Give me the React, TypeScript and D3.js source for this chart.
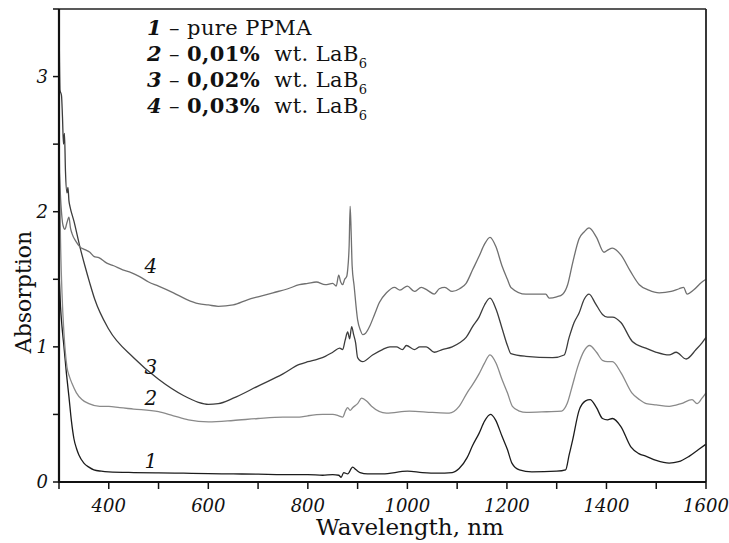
import React from 'react'
import * as d3 from 'd3'

type Pt = [number, number]

// wavelength (nm), absorption
const purePmma: Pt[] = [
  [300, 1.55], [303, 1.3], [306, 1.15], [310, 1.0], [315, 0.8], [320, 0.63], [325, 0.45], [330, 0.32],
  [335, 0.25], [340, 0.2], [350, 0.14], [360, 0.11], [370, 0.09], [385, 0.08], [400, 0.075], [450, 0.07],
  [500, 0.068], [550, 0.065], [600, 0.062], [650, 0.06], [700, 0.058], [750, 0.055], [800, 0.055],
  [830, 0.05], [850, 0.055], [862, 0.05], [867, 0.035], [872, 0.07], [880, 0.06], [890, 0.11],
  [897, 0.09], [905, 0.07], [920, 0.06], [950, 0.06], [1000, 0.08], [1030, 0.07], [1060, 0.065],
  [1090, 0.07], [1104, 0.1], [1120, 0.18], [1131, 0.27], [1144, 0.36], [1155, 0.45], [1167, 0.5],
  [1177, 0.46], [1190, 0.34], [1201, 0.24], [1210, 0.14], [1225, 0.09], [1250, 0.075], [1300, 0.08],
  [1318, 0.09], [1325, 0.2], [1332, 0.31], [1345, 0.53], [1358, 0.6], [1367, 0.61], [1380, 0.55],
  [1392, 0.47], [1402, 0.46], [1412, 0.47], [1429, 0.41], [1449, 0.26], [1465, 0.21], [1480, 0.19],
  [1500, 0.16], [1526, 0.14], [1545, 0.15], [1566, 0.19], [1585, 0.24], [1600, 0.28],
]

const lab001: Pt[] = [
  [300, 2.6], [303, 1.8], [306, 1.4], [310, 1.1], [316, 0.85], [321, 0.78], [326, 0.73], [335, 0.66],
  [346, 0.61], [360, 0.58], [382, 0.56], [400, 0.56], [422, 0.55], [450, 0.54], [500, 0.52], [530, 0.49],
  [560, 0.46], [600, 0.445], [650, 0.455], [700, 0.47], [750, 0.48], [783, 0.48], [800, 0.49],
  [830, 0.5], [850, 0.5], [862, 0.49], [870, 0.48], [876, 0.53], [880, 0.55], [885, 0.53], [890, 0.55],
  [900, 0.58], [908, 0.62], [918, 0.6], [928, 0.56], [958, 0.51], [1004, 0.525], [1050, 0.515],
  [1084, 0.51], [1104, 0.56], [1120, 0.66], [1131, 0.72], [1144, 0.8], [1155, 0.88], [1166, 0.94],
  [1178, 0.88], [1190, 0.76], [1201, 0.66], [1211, 0.56], [1225, 0.525], [1239, 0.515], [1280, 0.52],
  [1310, 0.525], [1321, 0.58], [1332, 0.72], [1342, 0.85], [1355, 0.97], [1366, 1.01], [1380, 0.96],
  [1392, 0.9], [1402, 0.89], [1412, 0.89], [1429, 0.81], [1451, 0.66], [1466, 0.61], [1480, 0.58],
  [1500, 0.57], [1526, 0.56], [1550, 0.58], [1572, 0.61], [1582, 0.58], [1592, 0.62], [1600, 0.66],
]

const lab002: Pt[] = [
  [300, 3.45], [301, 3.1], [302, 2.9], [305, 2.86], [307, 2.7], [309, 2.5], [311, 2.58], [313, 2.3],
  [316, 2.14], [318, 2.18], [320, 2.08], [322, 2.04], [330, 1.93], [342, 1.74], [352, 1.6], [362, 1.47],
  [372, 1.35], [400, 1.13], [450, 0.92], [500, 0.76], [550, 0.64], [580, 0.59], [600, 0.575], [620, 0.58],
  [650, 0.62], [700, 0.71], [750, 0.8], [783, 0.87], [800, 0.89], [820, 0.91], [835, 0.93], [850, 0.96],
  [864, 0.99], [870, 0.98], [875, 1.05], [880, 1.11], [884, 1.06], [888, 1.15], [892, 1.09], [896, 1.03],
  [900, 0.92], [910, 0.89], [930, 0.94], [950, 0.98], [965, 1.0], [978, 1.0], [990, 0.98], [998, 1.01],
  [1014, 0.98], [1025, 1.0], [1038, 1.0], [1054, 0.96], [1070, 0.98], [1090, 1.0], [1105, 1.03],
  [1118, 1.07], [1131, 1.15], [1144, 1.22], [1155, 1.31], [1166, 1.36], [1178, 1.28], [1190, 1.14],
  [1201, 1.01], [1208, 0.95], [1238, 0.93], [1292, 0.92], [1315, 0.94], [1325, 1.07], [1335, 1.18],
  [1345, 1.25], [1355, 1.35], [1365, 1.39], [1378, 1.32], [1392, 1.24], [1402, 1.22], [1412, 1.22],
  [1429, 1.18], [1452, 1.04], [1479, 0.99], [1500, 0.96], [1526, 0.94], [1540, 0.96], [1560, 0.91],
  [1580, 0.98], [1592, 1.03], [1600, 1.07],
]

const lab003: Pt[] = [
  [300, 2.35], [304, 2.05], [308, 1.9], [312, 1.87], [316, 1.92], [320, 1.96], [323, 1.88], [326, 1.84],
  [334, 1.78], [342, 1.74], [352, 1.72], [362, 1.7], [370, 1.67], [380, 1.66], [396, 1.62], [410, 1.6],
  [428, 1.57], [445, 1.55], [462, 1.52], [480, 1.48], [500, 1.45], [530, 1.4], [557, 1.35], [580, 1.32],
  [600, 1.31], [620, 1.3], [650, 1.31], [680, 1.35], [700, 1.37], [730, 1.4], [760, 1.43], [783, 1.46],
  [800, 1.47], [817, 1.48], [835, 1.46], [850, 1.47], [857, 1.45], [862, 1.53], [866, 1.48], [870, 1.46],
  [874, 1.5], [878, 1.52], [880, 1.57], [883, 1.75], [885, 2.04], [887, 1.85], [889, 1.6], [893, 1.45],
  [900, 1.2], [906, 1.12], [910, 1.09], [916, 1.1], [924, 1.15], [934, 1.24], [944, 1.33], [958, 1.4],
  [974, 1.44], [985, 1.42], [1000, 1.45], [1014, 1.41], [1028, 1.44], [1040, 1.42], [1054, 1.39],
  [1064, 1.43], [1075, 1.44], [1090, 1.41], [1105, 1.43], [1118, 1.47], [1131, 1.57], [1144, 1.67],
  [1155, 1.76], [1166, 1.81], [1178, 1.74], [1190, 1.6], [1201, 1.5], [1208, 1.44], [1238, 1.39],
  [1278, 1.39], [1285, 1.36], [1300, 1.37], [1312, 1.39], [1322, 1.46], [1332, 1.62], [1345, 1.8],
  [1355, 1.85], [1365, 1.88], [1380, 1.81], [1395, 1.7], [1404, 1.72], [1412, 1.73], [1429, 1.68],
  [1448, 1.56], [1466, 1.46], [1485, 1.42], [1506, 1.4], [1530, 1.41], [1546, 1.43], [1555, 1.44],
  [1562, 1.39], [1575, 1.42], [1592, 1.48], [1600, 1.5],
]

const seriesData = [purePmma, lab001, lab002, lab003]
const seriesColors = ['#1c1c1c', '#8a8a8a', '#3c3c3c', '#707070']
const curveLabels = [
  { t: '1', at: [480, 0.1] },
  { t: '2', at: [480, 0.57] },
  { t: '3', at: [480, 0.8] },
  { t: '4', at: [480, 1.55] },
]
const legendRows = [
  { n: '1', pct: '', rest: 'pure PPMA' },
  { n: '2', pct: '0,01%', rest: 'wt. LaB' },
  { n: '3', pct: '0,02%', rest: 'wt. LaB' },
  { n: '4', pct: '0,03%', rest: 'wt. LaB' },
]
const xMajor = [400, 600, 800, 1000, 1200, 1400, 1600]
const xMinor = [300, 500, 700, 900, 1100, 1300, 1500]
const yMajor = [0, 1, 2, 3]
const yMinor = [0.5, 1.5, 2.5]

const W = 729
const H = 543
const font = '"DejaVu Serif", serif'

export default function App() {
  const x = d3.scaleLinear().domain([300, 1600]).range([59, 706])
  const y = d3.scaleLinear().domain([0, 3.5]).range([482, 9])

  const line = d3.line<Pt>()
    .x(d => x(d[0]))
    .y(d => y(d[1]))
    .curve(d3.curveMonotoneX)

  return (
    <svg width={W} height={H} style={{ position: 'absolute', left: 0, top: 0, background: '#fff' }} fontFamily={font}>
      {/* curves */}
      {seriesData.map((s, i) => (
        <path key={i} d={line(s) ?? ''} fill="none" stroke={seriesColors[i]} strokeWidth={1.3} />
      ))}

      {/* frame */}
      <line x1={x(300)} x2={x(1600)} y1={y(3.5)} y2={y(3.5)} stroke="#222" strokeWidth={1.5} />
      <line x1={x(1600)} x2={x(1600)} y1={y(3.5)} y2={y(0)} stroke="#222" strokeWidth={1.8} />
      <line x1={x(300)} x2={x(300)} y1={y(3.5)} y2={y(0) + 1} stroke="#111" strokeWidth={2.2} />
      <line x1={x(300) - 1} x2={x(1600)} y1={y(0)} y2={y(0)} stroke="#111" strokeWidth={2.2} />

      {/* x ticks */}
      {xMajor.concat(xMinor).map(v => (
        <line key={'xt' + v} x1={x(v)} x2={x(v)} y1={y(0)} y2={y(0) + 7} stroke="#111" strokeWidth={1.5} />
      ))}
      {xMajor.map(v => (
        <text key={'xl' + v} x={x(v)} y={512} textAnchor="middle" fontSize={18} fontStyle="italic" fill="#111">{v}</text>
      ))}

      {/* y ticks */}
      {yMajor.concat(yMinor, [3.5]).map(v => (
        <line key={'yt' + v} x1={x(300) - 6} x2={x(300)} y1={y(v)} y2={y(v)} stroke="#111" strokeWidth={1.5} />
      ))}
      {yMajor.map(v => (
        <text key={'yl' + v} x={48} y={y(v) + 6} textAnchor="end" fontSize={18} fontStyle="italic" fill="#111">{v}</text>
      ))}

      {/* axis titles */}
      <text x={410} y={535} textAnchor="middle" fontSize={23} fill="#111">Wavelength, nm</text>
      <text transform={`translate(31,${292}) rotate(-90)`} textAnchor="middle" fontSize={22} fill="#111">Absorption</text>

      {/* curve numbers */}
      {curveLabels.map(c => (
        <text key={'cl' + c.t} x={x(c.at[0]) - 4} y={y(c.at[1])} fontSize={20} fontStyle="italic" fill="#111">{c.t}</text>
      ))}

      {/* legend */}
      {legendRows.map((r, i) => (
        <text key={'lg' + i} x={147} y={35 + i * 26} fontSize={21} fill="#111" xmlSpace="preserve" letterSpacing={0.4}>
          <tspan fontStyle="italic" fontWeight="bold">{r.n}</tspan>
          <tspan> – </tspan>
          {r.pct && <tspan fontWeight="bold">{r.pct}</tspan>}
          <tspan>{r.pct ? '  ' : ''}{r.rest}</tspan>
          {r.pct && <tspan fontSize={13} dy={7}>6</tspan>}
        </text>
      ))}
    </svg>
  )
}
